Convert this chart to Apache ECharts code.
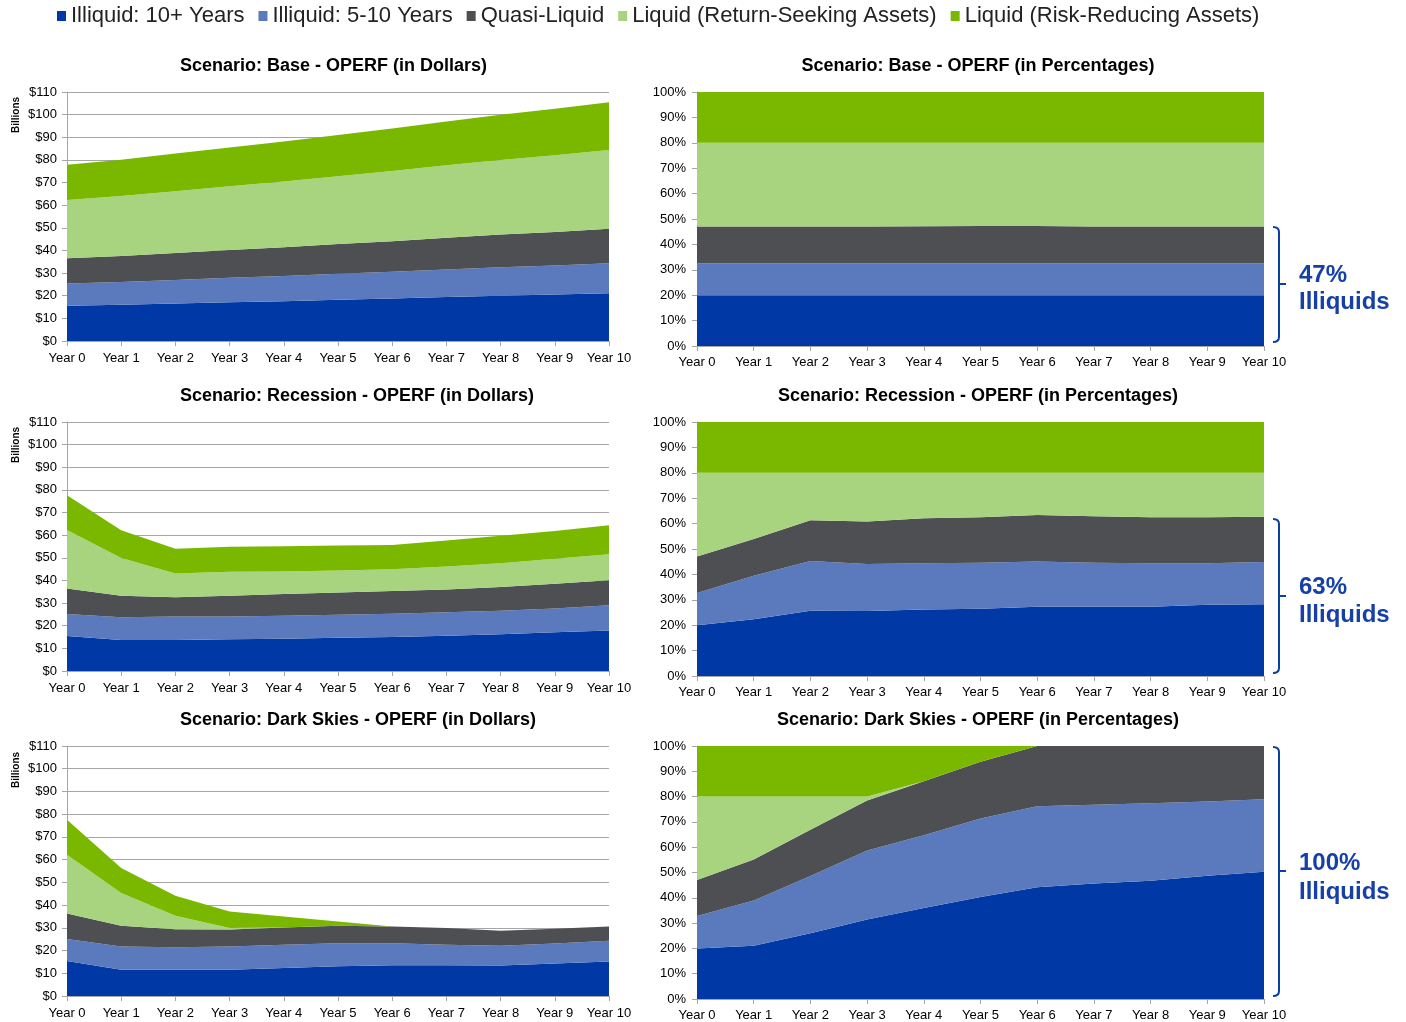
<!DOCTYPE html>
<html>
<head>
<meta charset="utf-8">
<script src="https://cdn.jsdelivr.net/npm/echarts@6/dist/echarts.min.js"></script>
<style>
  html, body { margin: 0; padding: 0; background: #fff; }
  #main { width: 1406px; height: 1022px; }
</style>
</head>
<body>
<div id="main"></div>
<script>
// categories
var years = ['Year 0', 'Year 1', 'Year 2', 'Year 3', 'Year 4', 'Year 5', 'Year 6', 'Year 7', 'Year 8', 'Year 9', 'Year 10'];
var seriesNames = ['Illiquid: 10+ Years', 'Illiquid: 5-10 Years', 'Quasi-Liquid', 'Liquid (Return-Seeking Assets)', 'Liquid (Risk-Reducing Assets)'];
var colors = ['#0039a6', '#5a7abd', '#4d4f53', '#a9d47f', '#7ab800'];

// Base scenario - dollars (billions)
var baseIll10 = [15.6, 16.0, 16.6, 17.1, 17.6, 18.2, 18.8, 19.4, 20.0, 20.5, 21.1];
var baseIll5 = [9.8, 10.1, 10.4, 10.8, 11.1, 11.5, 11.8, 12.2, 12.6, 12.9, 13.3];
var baseQuasi = [11.2, 11.5, 11.9, 12.3, 12.7, 13.1, 13.5, 14.0, 14.4, 14.8, 15.2];
var baseReturn = [25.7, 26.5, 27.3, 28.2, 29.1, 30.0, 31.0, 32.0, 33.0, 33.9, 34.8];
var baseRisk = [15.6, 16.0, 16.6, 17.1, 17.6, 18.2, 18.8, 19.4, 20.0, 20.5, 21.1];

// Base scenario - percentages
var basePctIll10 = [20, 20, 20, 20, 20, 20, 20, 20, 20, 20, 20];
var basePctIll5 = [12.6, 12.6, 12.6, 12.6, 12.6, 12.6, 12.6, 12.6, 12.6, 12.6, 12.6];
var basePctQuasi = [14.4, 14.4, 14.4, 14.4, 14.5, 14.6, 14.6, 14.4, 14.4, 14.4, 14.4];
var basePctReturn = [33, 33, 33, 33, 32.9, 32.8, 32.8, 33, 33, 33, 33];
var basePctRisk = [20, 20, 20, 20, 20, 20, 20, 20, 20, 20, 20];

// Recession scenario - dollars
var recIll10 = [15.5, 13.7, 13.7, 14.0, 14.3, 14.7, 15.0, 15.6, 16.2, 17.1, 17.9];
var recIll5 = [9.7, 10.1, 10.4, 10.1, 10.1, 10.2, 10.3, 10.3, 10.4, 10.5, 11.1];
var recQuasi = [11.2, 9.4, 8.5, 9.1, 9.6, 9.8, 10.0, 10.1, 10.5, 10.9, 11.1];
var recReturn = [25.9, 16.7, 10.5, 10.6, 10.0, 9.7, 9.6, 10.2, 10.5, 11.1, 11.5];
var recRisk = [15.3, 12.3, 10.9, 11.1, 11.1, 11.0, 10.8, 11.4, 12.1, 12.3, 12.8];

// Recession scenario - percentages
var recPctIll10 = [20, 22.3, 25.7, 25.6, 26.2, 26.5, 27.3, 27.3, 27.3, 28.1, 28.2];
var recPctIll5 = [12.7, 17.2, 19.6, 18.5, 18.2, 18.1, 17.8, 17.3, 17.1, 16.3, 16.7];
var recPctQuasi = [14.3, 14.4, 16.0, 16.7, 17.7, 17.9, 18.3, 18.3, 18.1, 18.1, 17.8];
var recPctReturn = [33, 26.1, 18.7, 19.2, 17.9, 17.5, 16.6, 17.1, 17.5, 17.5, 17.3];
var recPctRisk = [20, 20, 20, 20, 20, 20, 20, 20, 20, 20, 20];

// Dark Skies scenario - dollars
var darkIll10 = [15.4, 11.6, 11.5, 11.6, 12.3, 13.1, 13.5, 13.5, 13.4, 14.3, 15.2];
var darkIll5 = [9.7, 10.2, 10.0, 10.2, 10.3, 10.1, 9.7, 9.1, 8.7, 8.8, 9.1];
var darkQuasi = [11.2, 9.1, 7.9, 7.5, 7.5, 7.7, 7.4, 7.3, 6.6, 6.5, 6.3];
var darkReturn = [25.9, 14.4, 5.9, 0.6, 0, 0, 0, 0, 0, 0, 0];
var darkRisk = [15.3, 11.0, 8.8, 7.3, 4.9, 1.9, 0, 0, 0, 0, 0];

// Dark Skies scenario - percentages
var darkPctIll10 = [20, 21, 26, 31.4, 36, 40.3, 44.2, 45.7, 46.7, 48.7, 50.3];
var darkPctIll5 = [12.8, 17.9, 22.6, 27.3, 28.7, 31, 32, 31.1, 30.7, 29.4, 28.7];
var darkPctQuasi = [14.2, 16.2, 18.3, 19.8, 21.4, 22.5, 23.8, 23.2, 22.6, 21.9, 21];
var darkPctReturn = [33, 24.9, 13.1, 1.5, 0, 0, 0, 0, 0, 0, 0];
var darkPctRisk = [20, 20, 20, 20, 13.9, 6.2, 0, 0, 0, 0, 0];

var titles = [
  'Scenario: Base - OPERF (in Dollars)', 'Scenario: Base - OPERF (in Percentages)',
  'Scenario: Recession - OPERF (in Dollars)', 'Scenario: Recession - OPERF (in Percentages)',
  'Scenario: Dark Skies - OPERF (in Dollars)', 'Scenario: Dark Skies - OPERF (in Percentages)'
];
var panelData = [
  [baseIll10, baseIll5, baseQuasi, baseReturn, baseRisk],
  [basePctIll10, basePctIll5, basePctQuasi, basePctReturn, basePctRisk],
  [recIll10, recIll5, recQuasi, recReturn, recRisk],
  [recPctIll10, recPctIll5, recPctQuasi, recPctReturn, recPctRisk],
  [darkIll10, darkIll5, darkQuasi, darkReturn, darkRisk],
  [darkPctIll10, darkPctIll5, darkPctQuasi, darkPctReturn, darkPctRisk]
];

// plot boxes: left, top, width, height
var boxes = [
  [67, 92, 542, 249], [697, 92, 567, 254],
  [67, 422, 542, 249], [697, 422, 567, 254],
  [67, 746, 542, 250], [697, 746, 567, 253]
];
var titleY = [52, 52, 382, 382, 706, 706];

var font = 'Liberation Sans, Arial, sans-serif';
var grids = [], xAxes = [], yAxes = [], series = [], titleList = [];

boxes.forEach(function (b, i) {
  var pct = i % 2 === 1;
  grids.push({ left: b[0], top: b[1], width: b[2], height: b[3], containLabel: false });
  titleList.push({
    text: titles[i], left: pct ? 973 : 175, top: titleY[i], textAlign: pct ? 'center' : 'left',
    textStyle: { fontFamily: font, fontSize: 18, fontWeight: 'bold', color: '#000' }
  });
  xAxes.push({
    type: 'category', gridIndex: i, data: years, boundaryGap: false, z: 5,
    axisLine: { lineStyle: { color: '#a6a6a6', width: 1 } },
    axisTick: { show: true, length: 5, lineStyle: { color: '#a6a6a6' } },
    axisLabel: { fontFamily: font, fontSize: 13, color: '#000', margin: pct ? 10 : 11, interval: 0 }
  });
  yAxes.push({
    type: 'value', gridIndex: i, min: 0, max: pct ? 100 : 110, interval: 10,
    axisLine: { show: true, lineStyle: { color: '#a6a6a6' } },
    axisTick: { show: true, length: 5, lineStyle: { color: '#a6a6a6' } },
    axisLabel: {
      fontFamily: font, fontSize: 13, color: '#000', margin: pct ? 11 : 10,
      formatter: pct ? function (v) { return v + '%'; } : function (v) { return '$' + v; }
    },
    splitLine: { show: !pct, lineStyle: { color: '#a6a6a6', width: 1 } }
  });
  panelData[i].forEach(function (vals, k) {
    series.push({
      name: seriesNames[k], type: 'line', xAxisIndex: i, yAxisIndex: i,
      stack: 'panel' + i, data: vals, showSymbol: false, symbol: 'none',
      lineStyle: { width: 0 }, itemStyle: { color: colors[k] },
      areaStyle: { color: colors[k], opacity: 1 }, silent: true, z: 2
    });
  });
});

// brackets + labels on the right
var brackets = [
  { top: 227, bottom: 342, mid: 284, text: ['47%', 'Illiquids'], ty: [275, 302] },
  { top: 519, bottom: 673, mid: 596, text: ['63%', 'Illiquids'], ty: [587, 615] },
  { top: 747, bottom: 996, mid: 871, text: ['100%', 'Illiquids'], ty: [863, 892] }
];
var graphics = [];
var bStyle = { stroke: '#0d3ea6', lineWidth: 2, fill: null };
brackets.forEach(function (br) {
  var x = 1279;
  graphics.push({
    type: 'bezierCurve',
    shape: { x1: x - 6, y1: br.top, cpx1: x, cpy1: br.top, x2: x, y2: br.top + 5 },
    style: bStyle
  });
  graphics.push({
    type: 'line', shape: { x1: x, y1: br.top + 5, x2: x, y2: br.bottom - 5 }, style: bStyle
  });
  graphics.push({
    type: 'bezierCurve',
    shape: { x1: x, y1: br.bottom - 5, cpx1: x, cpy1: br.bottom, x2: x - 6, y2: br.bottom },
    style: bStyle
  });
  graphics.push({
    type: 'line', shape: { x1: x, y1: br.mid, x2: x + 7, y2: br.mid }, style: bStyle
  });
  br.text.forEach(function (t, j) {
    graphics.push({
      type: 'text', x: 1299, y: br.ty[j],
      style: { text: t, fill: '#1640a8', font: 'bold 24px ' + font, verticalAlign: 'middle' }
    });
  });
});
[115, 445, 770].forEach(function (y) {
  graphics.push({
    type: 'text', x: 16, y: y, rotation: Math.PI / 2,
    style: { text: 'Billions', fill: '#000', font: 'bold 10px ' + font, align: 'center', verticalAlign: 'middle' }
  });
});

var chart = echarts.init(document.getElementById('main'), null, { renderer: 'canvas' });
chart.setOption({
  animation: false,
  color: colors,
  title: titleList,
  legend: {
    data: seriesNames, top: 0, left: 52, itemWidth: 9, itemHeight: 10, itemGap: 14,
    icon: 'rect',
    textStyle: { fontFamily: 'Liberation Sans Narrow, Arial Narrow, sans-serif', fontSize: 22, color: '#222' }
  },
  grid: grids,
  xAxis: xAxes,
  yAxis: yAxes,
  series: series,
  graphic: graphics
});
</script>
</body>
</html>
